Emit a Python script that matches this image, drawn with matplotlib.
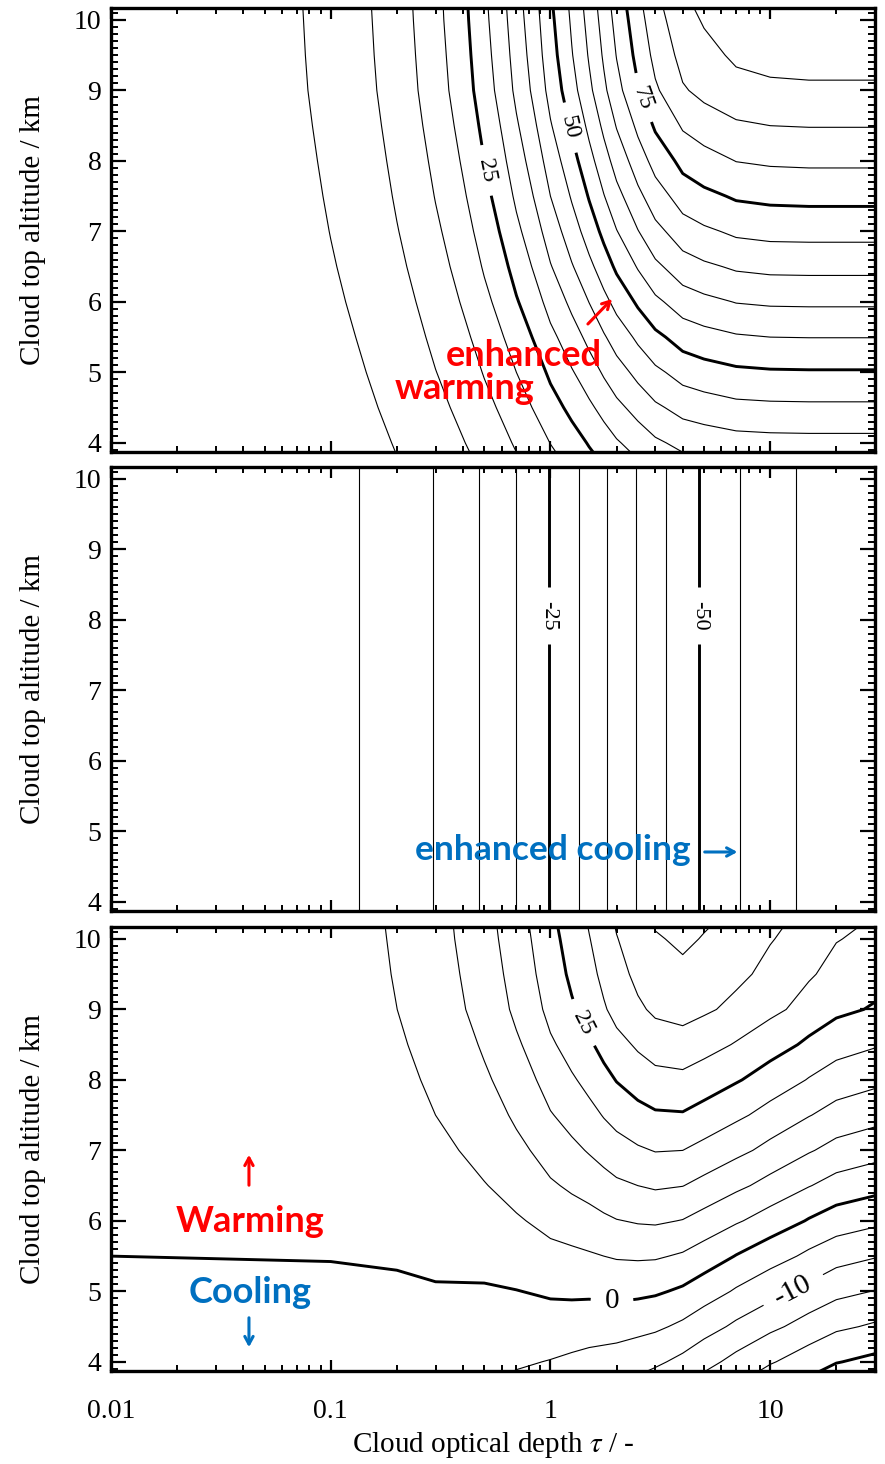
import numpy as np
import matplotlib
matplotlib.use("Agg")
import matplotlib.pyplot as plt
from matplotlib.ticker import LogLocator, NullFormatter, MultipleLocator

plt.rcParams['font.family'] = ['Liberation Serif', 'DejaVu Serif']
plt.rcParams['mathtext.fontset'] = 'stix'

# ---------------- data ----------------
optical_depth = [0.01, 0.1, 0.2, 0.3, 0.5, 0.7, 1, 1.25, 1.5, 1.75, 2, 2.5, 3, 4, 5, 7, 10, 15, 20, 30]
cloud_top_km = [3.8, 4, 4.5, 5, 5.5, 6, 6.5, 7, 7.5, 8, 8.5, 9, 9.5, 10, 10.2]

# top panel: warming (rows = cloud top altitude, columns = optical depth)
lw_forcing = [
    [0.27, 2.58, 4.97, 7.2, 11.2, 14.7, 19.0, 21.6, 24.0, 26.0, 27.8, 30.3, 32.2, 34.3, 35.1, 35.9, 36.2, 36.3, 36.3, 36.3],
    [0.28, 2.73, 5.27, 7.7, 11.9, 15.6, 20.1, 22.9, 25.4, 27.6, 29.5, 32.1, 34.2, 36.4, 37.2, 38.1, 38.4, 38.5, 38.5, 38.5],
    [0.33, 3.13, 6.04, 8.8, 13.6, 17.8, 23.1, 26.3, 29.1, 31.6, 33.8, 36.8, 39.2, 41.7, 42.6, 43.7, 44.0, 44.1, 44.1, 44.1],
    [0.37, 3.52, 6.80, 9.9, 15.3, 20.0, 25.9, 29.6, 32.7, 35.6, 38.0, 41.4, 44.0, 46.9, 48.0, 49.1, 49.5, 49.6, 49.6, 49.6],
    [0.41, 3.91, 7.55, 11.0, 17.0, 22.3, 28.8, 32.8, 36.4, 39.5, 42.2, 46.0, 48.9, 52.1, 53.3, 54.5, 55.0, 55.1, 55.1, 55.1],
    [0.45, 4.32, 8.33, 12.1, 18.8, 24.6, 31.8, 36.2, 40.1, 43.6, 46.6, 50.8, 54.0, 57.5, 58.8, 60.2, 60.7, 60.8, 60.8, 60.8],
    [0.49, 4.71, 9.10, 13.2, 20.5, 26.8, 34.7, 39.6, 43.8, 47.6, 50.9, 55.4, 59.0, 62.8, 64.2, 65.7, 66.3, 66.4, 66.4, 66.4],
    [0.53, 5.08, 9.81, 14.2, 22.1, 28.9, 37.4, 42.7, 47.3, 51.3, 54.8, 59.8, 63.6, 67.7, 69.2, 70.9, 71.5, 71.6, 71.6, 71.6],
    [0.57, 5.42, 10.47, 15.2, 23.6, 30.9, 40.0, 45.5, 50.4, 54.8, 58.5, 63.8, 67.8, 72.3, 73.9, 75.6, 76.2, 76.4, 76.4, 76.4],
    [0.60, 5.74, 11.08, 16.1, 25.0, 32.7, 42.3, 48.2, 53.4, 58.0, 62.0, 67.6, 71.8, 76.5, 78.2, 80.1, 80.7, 80.9, 80.9, 80.9],
    [0.63, 6.05, 11.67, 17.0, 26.3, 34.4, 44.6, 50.8, 56.2, 61.1, 65.3, 71.1, 75.7, 80.6, 82.4, 84.3, 85.0, 85.2, 85.2, 85.2],
    [0.66, 6.34, 12.23, 17.8, 27.6, 36.1, 46.7, 53.2, 58.9, 64.0, 68.4, 74.6, 79.3, 84.5, 86.4, 88.4, 89.1, 89.3, 89.3, 89.3],
    [0.68, 6.51, 12.56, 18.2, 28.3, 37.0, 48.0, 54.7, 60.5, 65.7, 70.2, 76.6, 81.4, 86.7, 88.7, 90.8, 91.5, 91.7, 91.7, 91.7],
    [0.69, 6.64, 12.81, 18.6, 28.9, 37.8, 48.9, 55.7, 61.7, 67.0, 71.6, 78.1, 83.0, 88.5, 90.4, 92.6, 93.3, 93.5, 93.5, 93.5],
    [0.70, 6.69, 12.91, 18.7, 29.1, 38.1, 49.3, 56.1, 62.2, 67.5, 72.2, 78.7, 83.7, 89.1, 91.1, 93.3, 94.0, 94.2, 94.2, 94.2],
]

# middle panel: cooling, the same at every altitude
sw_forcing = [-0.41, -3.85, -7.25, -10.2, -15.7, -20.1, -25.3, -28.8, -31.9, -34.5,
              -36.8, -40.4, -43.4, -47.7, -50.7, -54.7, -58.0, -61.2, -63.3, -64.8]

# bottom panel: net effect
net_forcing = [
    [-0.14, -1.27, -2.28, -3.0, -4.5, -5.4, -6.3, -7.2, -7.9, -8.5, -9.0, -10.1, -11.2, -13.4, -15.6, -18.8, -21.8, -24.9, -27.0, -28.5],
    [-0.13, -1.12, -1.98, -2.5, -3.8, -4.5, -5.2, -5.9, -6.5, -6.9, -7.3, -8.3, -9.2, -11.3, -13.5, -16.6, -19.6, -22.7, -24.8, -26.3],
    [-0.08, -0.72, -1.21, -1.4, -2.1, -2.3, -2.2, -2.5, -2.8, -2.9, -3.0, -3.6, -4.2, -6.0, -8.1, -11.0, -14.0, -17.1, -19.2, -20.7],
    [-0.04, -0.33, -0.45, -0.3, -0.4, -0.1, 0.6, 0.8, 0.8, 1.1, 1.2, 1.0, 0.6, -0.8, -2.7, -5.6, -8.5, -11.6, -13.7, -15.2],
    [0.00, 0.06, 0.30, 0.8, 1.3, 2.2, 3.5, 4.0, 4.5, 5.0, 5.4, 5.6, 5.5, 4.4, 2.6, -0.2, -3.0, -6.1, -8.2, -9.7],
    [0.04, 0.47, 1.08, 1.9, 3.1, 4.5, 6.5, 7.4, 8.2, 9.1, 9.8, 10.4, 10.6, 9.8, 8.1, 5.5, 2.7, -0.4, -2.5, -4.0],
    [0.08, 0.86, 1.85, 3.0, 4.8, 6.7, 9.4, 10.8, 11.9, 13.1, 14.1, 15.0, 15.6, 15.1, 13.5, 11.0, 8.3, 5.2, 3.1, 1.6],
    [0.12, 1.23, 2.56, 4.0, 6.4, 8.8, 12.1, 13.9, 15.4, 16.8, 18.0, 19.4, 20.2, 20.0, 18.5, 16.2, 13.5, 10.4, 8.3, 6.8],
    [0.16, 1.57, 3.22, 5.0, 7.9, 10.8, 14.7, 16.7, 18.5, 20.3, 21.7, 23.4, 24.4, 24.6, 23.2, 20.9, 18.2, 15.2, 13.1, 11.6],
    [0.19, 1.89, 3.83, 5.9, 9.3, 12.6, 17.0, 19.4, 21.5, 23.5, 25.2, 27.2, 28.4, 28.8, 27.5, 25.4, 22.7, 19.7, 17.6, 16.1],
    [0.22, 2.20, 4.42, 6.8, 10.6, 14.3, 19.3, 22.0, 24.3, 26.6, 28.5, 30.7, 32.3, 32.9, 31.7, 29.6, 27.0, 24.0, 21.9, 20.4],
    [0.25, 2.49, 4.98, 7.6, 11.9, 16.0, 21.4, 24.4, 27.0, 29.5, 31.6, 34.2, 35.9, 36.8, 35.7, 33.7, 31.1, 28.1, 26.0, 24.5],
    [0.27, 2.66, 5.31, 8.0, 12.6, 16.9, 22.7, 25.9, 28.6, 31.2, 33.4, 36.2, 38.0, 39.0, 38.0, 36.1, 33.5, 30.5, 28.4, 26.9],
    [0.28, 2.79, 5.56, 8.4, 13.2, 17.7, 23.6, 26.9, 29.8, 32.5, 34.8, 37.7, 39.6, 40.8, 39.7, 37.9, 35.3, 32.3, 30.2, 28.7],
    [0.29, 2.84, 5.66, 8.5, 13.4, 18.0, 24.0, 27.3, 30.3, 33.0, 35.4, 38.3, 40.3, 41.4, 40.4, 38.6, 36.0, 33.0, 30.9, 29.4],
]

lw_levels = list(range(5, 95, 5))
sw_levels = list(range(-60, 0, 5))
net_levels = list(range(-25, 45, 5))
lw_bold = [25, 50, 75]
sw_bold = [-25, -50]
net_bold = [-25, 0, 25]
lw_labelled = [25, 50, 75]
sw_labelled = [-25, -50]
net_labelled = [-10, 0, 25]

x_ticks = [0.01, 0.1, 1, 10]
x_ticklabels = ['0.01', '0.1', '1', '10']
y_ticks = [4, 5, 6, 7, 8, 9, 10]

# ---------------- layout / style ----------------
lw_label_pos = [(0.52, 7.87), (1.22, 8.47), (2.5, 8.87)]
lw_label_size = [17, 17, 17]
sw_label_pos = [(0.97, 8.06), (4.71, 8.06)]
sw_label_size = [16, 16]
net_label_pos = [(12.5, 5.04), (1.9, 4.84), (1.34, 8.78)]
net_label_size = [21, 21, 17]

RED = '#FF0000'
BLUE = '#0070C0'
ANN_FONT = ['Lato', 'DejaVu Sans']
ANN_SIZE = 26

fig = plt.figure(figsize=(8.85, 14.64), dpi=100)
left, width, height = 0.1254, 0.8633, 0.3033
ax1 = fig.add_axes([left, 0.69126, width, height])
ax2 = fig.add_axes([left, 0.37773, width, height])
ax3 = fig.add_axes([left, 0.06352, width, height])

T, Z = np.meshgrid(np.array(optical_depth), np.array(cloud_top_km))
sw_grid = np.tile(np.array(sw_forcing), (len(cloud_top_km), 1))


def style_axes(ax, show_xlabels):
    ax.set_xscale('log')
    ax.set_xlim(0.01, 30)
    ax.set_ylim(3.87, 10.17)
    ax.set_yticks(y_ticks)
    ax.set_yticklabels([str(v) for v in y_ticks])
    ax.yaxis.set_minor_locator(MultipleLocator(0.1))
    ax.set_xticks(x_ticks)
    ax.set_xticklabels(x_ticklabels)
    ax.xaxis.set_minor_locator(LogLocator(base=10, subs=np.arange(2, 10)))
    ax.xaxis.set_minor_formatter(NullFormatter())
    ax.tick_params(which='both', direction='in', top=True, right=True)
    ax.tick_params(axis='y', which='major', length=11, width=1.6, labelsize=20, pad=7)
    ax.tick_params(axis='y', which='minor', length=5, width=1.4)
    ax.tick_params(axis='x', which='major', length=8, width=1.6, labelsize=20, pad=20)
    ax.tick_params(axis='x', which='minor', length=4.5, width=1.4)
    ax.tick_params(axis='x', labelbottom=show_xlabels)
    for s in ax.spines.values():
        s.set_linewidth(2.4)
    ax.set_ylabel('Cloud top altitude / km', fontsize=21)
    ax.yaxis.set_label_coords(-0.085, 0.5)


def draw_contours(ax, field, levels, bold, labelled, label_pos, label_size):
    field = np.array(field)
    plain = [lv for lv in levels if lv not in labelled]
    widths = [2.1 if lv in bold else 0.8 for lv in plain]
    ax.contour(T, Z, field, levels=plain, colors='black', linewidths=widths,
               negative_linestyles='solid')
    for lv, pos, fs in zip(labelled, label_pos, label_size):
        cs = ax.contour(T, Z, field, levels=[lv], colors='black',
                        linewidths=2.1 if lv in bold else 0.8,
                        negative_linestyles='solid')
        ax.clabel(cs, manual=[pos], inline=True, inline_spacing=14,
                  fmt='%d', fontsize=fs)


style_axes(ax1, False)
style_axes(ax2, False)
style_axes(ax3, True)

draw_contours(ax1, lw_forcing, lw_levels, lw_bold, lw_labelled, lw_label_pos, lw_label_size)
draw_contours(ax2, sw_grid, sw_levels, sw_bold, sw_labelled, sw_label_pos, sw_label_size)
draw_contours(ax3, net_forcing, net_levels, net_bold, net_labelled, net_label_pos, net_label_size)

for ax in (ax1, ax2, ax3):
    ax.set_xlim(0.01, 30)
    ax.set_ylim(3.87, 10.17)

ax3.set_xlabel(r'Cloud optical depth $\tau$ / -', fontsize=21)
ax3.xaxis.set_label_coords(0.5, -0.132)

arrow_kw = dict(arrowstyle='->, head_length=0.55, head_width=0.3', lw=2.2)

# panel 1 annotations
ax1.text(0.5406, 0.2162, 'enhanced', transform=ax1.transAxes, ha='center', va='center',
         color=RED, fontsize=ANN_SIZE, fontweight='bold', family=ANN_FONT, zorder=5)
ax1.text(0.4634, 0.1441, 'warming', transform=ax1.transAxes, ha='center', va='center',
         color=RED, fontsize=ANN_SIZE, fontweight='bold', family=ANN_FONT, zorder=5)
ax1.annotate('', xy=(0.6584, 0.3491), xytext=(0.6217, 0.2838), xycoords='axes fraction',
             arrowprops=dict(color=RED, **arrow_kw))

# panel 2 annotations
ax2.text(0.5785, 0.1374, 'enhanced cooling', transform=ax2.transAxes, ha='center', va='center',
         color=BLUE, fontsize=ANN_SIZE - 0.5, fontweight='bold', family=ANN_FONT, zorder=5)
ax2.annotate('', xy=(0.8235, 0.1329), xytext=(0.7735, 0.1329), xycoords='axes fraction',
             arrowprops=dict(color=BLUE, **arrow_kw))

# panel 3 annotations
ax3.text(0.1819, 0.3356, 'Warming', transform=ax3.transAxes, ha='center', va='center',
         color=RED, fontsize=ANN_SIZE, fontweight='bold', family=ANN_FONT, zorder=5)
ax3.text(0.1819, 0.1757, 'Cooling', transform=ax3.transAxes, ha='center', va='center',
         color=BLUE, fontsize=ANN_SIZE, fontweight='bold', family=ANN_FONT, zorder=5)
ax3.annotate('', xy=(0.1806, 0.4932), xytext=(0.1806, 0.4122), xycoords='axes fraction',
             arrowprops=dict(color=RED, **arrow_kw))
ax3.annotate('', xy=(0.1806, 0.0473), xytext=(0.1806, 0.1261), xycoords='axes fraction',
             arrowprops=dict(color=BLUE, **arrow_kw))

fig.savefig('out.png', dpi=100)
